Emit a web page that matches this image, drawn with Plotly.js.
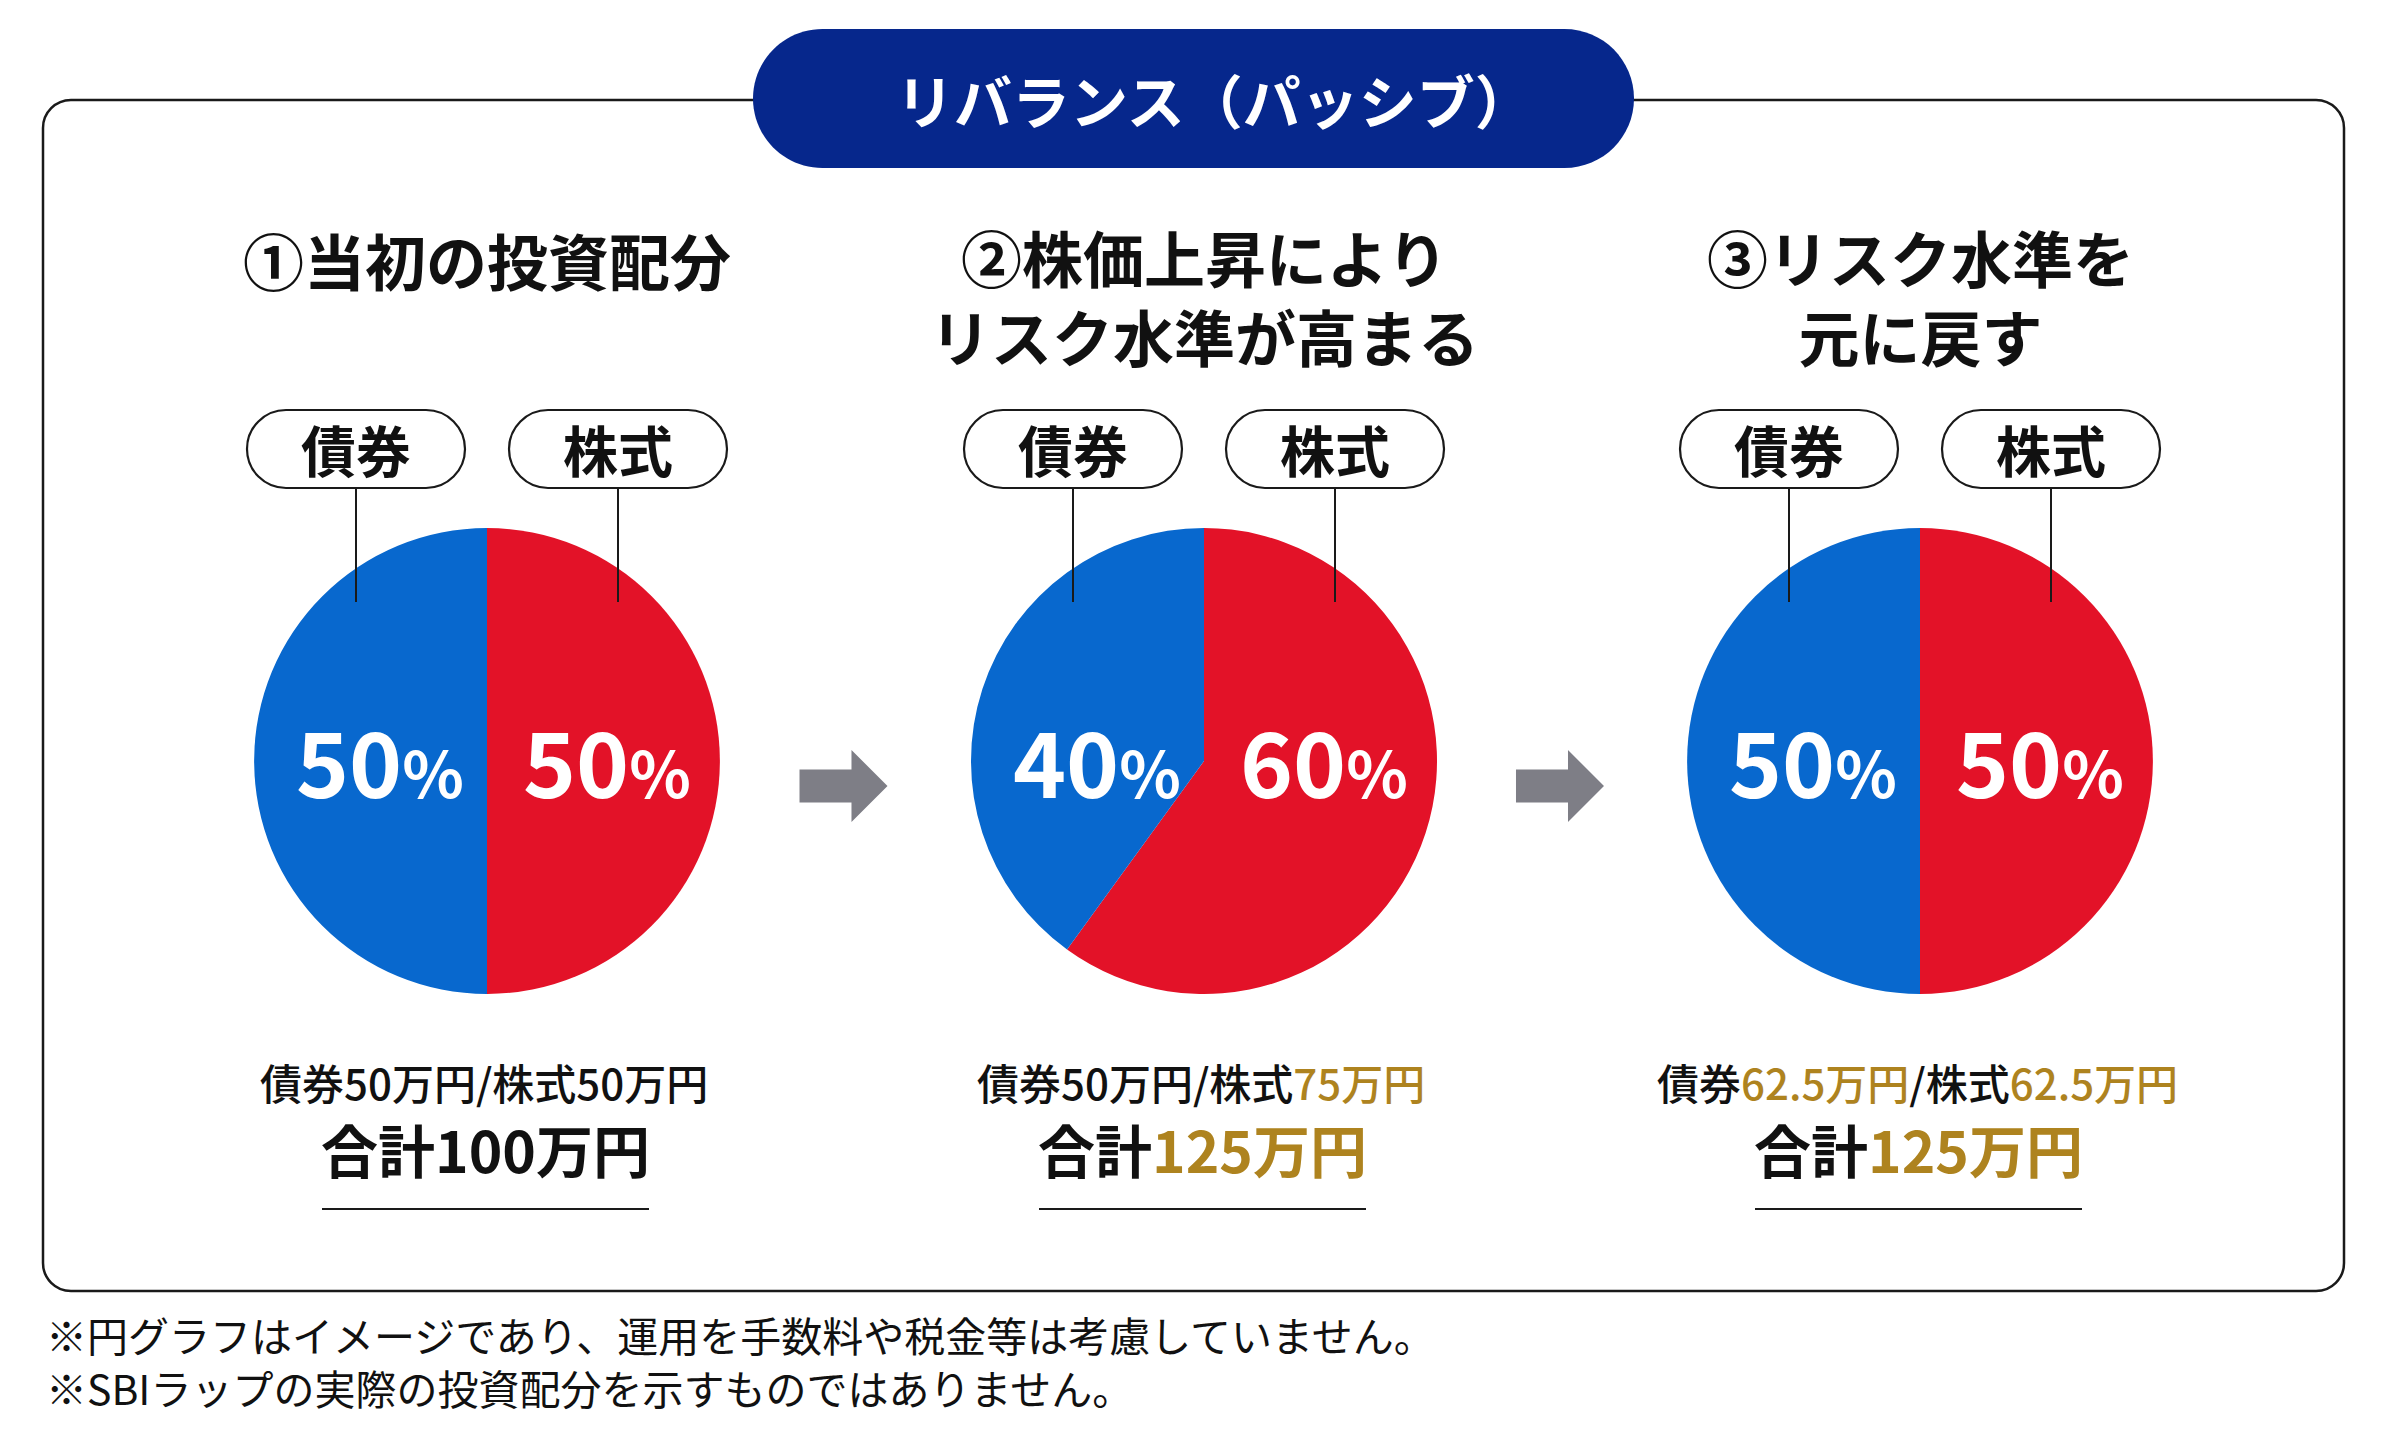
<!DOCTYPE html>
<html>
<head>
<meta charset="utf-8">
<script src="https://cdn.plot.ly/plotly-3.0.1.min.js"></script>
<style>html,body{margin:0;padding:0;background:#fff;}#chart{width:2401px;height:1441px;}</style>
</head>
<body>
<div id="chart"></div>
<script>
// ---- data ----
const headerText = "リバランス（パッシブ）";
const panelTitles = [["①当初の投資配分"], ["②株価上昇により", "リスク水準が高まる"], ["③リスク水準を", "元に戻す"]];
const assetLabels = ["株式", "債券"];
const stockShare = [50, 60, 50];
const bondShare = [50, 40, 50];
const bondAmount = ["50", "50", "62.5"];
const stockAmount = ["50", "75", "62.5"];
const totalAmount = ["100", "125", "125"];
const bondChanged = [false, false, true];
const stockChanged = [false, true, true];
const totalChanged = [false, true, true];
const footnotes = ["※円グラフはイメージであり、運用を手数料や税金等は考慮していません。",
                   "※SBIラップの実際の投資配分を示すものではありません。"];

// ---- styling ----
const W = 2401, H = 1441;
const FONT = '"Noto Sans CJK JP", "Noto Sans", sans-serif';
const BLUE = "#0868CE", RED = "#E31228", NAVY = "#06278C", GRAY = "#7E7E86", GOLD = "#AE831F", INK = "#111111";
const pieCx = [487, 1204, 1920];
const pieCy = 761, R = 233;

const fx = x => x / W;
const fy = y => 1 - y / H;
const P = (x, y) => fx(x).toFixed(5) + "," + fy(y).toFixed(5);

function rrect(x0, y0, x1, y1, r) {
  const k = 0.5523 * r;
  return `M${P(x0 + r, y0)} L${P(x1 - r, y0)} C${P(x1 - r + k, y0)} ${P(x1, y0 + r - k)} ${P(x1, y0 + r)} ` +
         `L${P(x1, y1 - r)} C${P(x1, y1 - r + k)} ${P(x1 - r + k, y1)} ${P(x1 - r, y1)} ` +
         `L${P(x0 + r, y1)} C${P(x0 + r - k, y1)} ${P(x0, y1 - r + k)} ${P(x0, y1 - r)} ` +
         `L${P(x0, y0 + r)} C${P(x0, y0 + r - k)} ${P(x0 + r - k, y0)} ${P(x0 + r, y0)} Z`;
}
function arrow(cx, cy) {
  return `M${P(cx - 44, cy - 16.5)} L${P(cx + 8, cy - 16.5)} L${P(cx + 8, cy - 36)} L${P(cx + 44, cy)} ` +
         `L${P(cx + 8, cy + 36)} L${P(cx + 8, cy + 16.5)} L${P(cx - 44, cy + 16.5)} Z`;
}

const traces = pieCx.map((cx, i) => ({
  type: "pie",
  labels: assetLabels,
  values: [stockShare[i], bondShare[i]],
  marker: { colors: [RED, BLUE], line: { width: 0 } },
  sort: false,
  direction: "clockwise",
  rotation: 0,
  textinfo: "none",
  hoverinfo: "label+percent",
  showlegend: false,
  domain: { x: [fx(cx - R), fx(cx + R)], y: [fy(pieCy + R), fy(pieCy - R)] }
}));

const shapes = [];
shapes.push({ type: "path", xref: "paper", yref: "paper", path: rrect(43, 100, 2344, 1291, 28),
              line: { color: "#1a1a1a", width: 2.5 }, fillcolor: "rgba(0,0,0,0)" });
shapes.push({ type: "path", xref: "paper", yref: "paper", path: rrect(753, 29, 1634, 168, 69.5),
              line: { width: 0 }, fillcolor: NAVY });
pieCx.forEach((cx, i) => {
  [cx - 131, cx + 131].forEach(lx => {
    shapes.push({ type: "path", xref: "paper", yref: "paper", path: rrect(lx - 109, 410, lx + 109, 488, 39),
                  line: { color: "#1a1a1a", width: 2.2 }, fillcolor: "#ffffff" });
    shapes.push({ type: "line", xref: "paper", yref: "paper", x0: fx(lx), x1: fx(lx), y0: fy(488), y1: fy(602),
                  line: { color: "#1a1a1a", width: 2 } });
  });
  shapes.push({ type: "line", xref: "paper", yref: "paper", x0: fx(cx - 165), x1: fx(cx + 162), y0: fy(1209), y1: fy(1209),
                line: { color: "#1a1a1a", width: 2 } });
  if (i < pieCx.length - 1) {
    shapes.push({ type: "path", xref: "paper", yref: "paper", path: arrow((cx + pieCx[i + 1]) / 2 - 2, 786),
                  line: { width: 0 }, fillcolor: GRAY });
  }
});

const ann = [];
function txt(x, y, text, size, color, weight, xanchor, align) {
  ann.push({ xref: "paper", yref: "paper", x: fx(x), y: fy(y), xanchor: xanchor || "center", yanchor: "middle",
             align: align || "center",
             text: text, showarrow: false, font: { family: FONT, size: size, color: color, weight: weight || 400 } });
}
const colored = (s, on) => on ? `<span style="color:${GOLD}">${s}</span>` : s;
const pct = v => `${v}<span style="font-size:64px;font-weight:bold">%</span>`;

txt(1214, 99, headerText, 58, "#ffffff", 700);
pieCx.forEach((cx, i) => {
  const lines = panelTitles[i];
  const midY = 259 + (lines.length - 1) * 37;
  txt(cx, midY, lines.join("<br>"), 61, INK, 700);
  txt(cx - 131, 448, assetLabels[1], 55, INK, 700);
  txt(cx + 131, 448, assetLabels[0], 55, INK, 700);
  txt(cx - 107, 759, pct(bondShare[i]), 90, "#ffffff", 700);
  txt(cx + 120, 759, pct(stockShare[i]), 90, "#ffffff", 700);
  txt(cx - 3, 1081, `債券${colored(bondAmount[i] + "万円", bondChanged[i])}/株式${colored(stockAmount[i] + "万円", stockChanged[i])}`, 42, INK, 500);
  txt(cx - 2, 1148, `合計${colored(totalAmount[i] + "万円", totalChanged[i])}`, 57, INK, 700);
});
txt(44, 1360, footnotes.join("<br>"), 41, INK, 400, "left", "left");

Plotly.newPlot("chart", traces, {
  width: W, height: H,
  margin: { l: 0, r: 0, t: 0, b: 0 },
  paper_bgcolor: "#ffffff",
  showlegend: false,
  shapes: shapes,
  annotations: ann
}, { staticPlot: true });
</script>
</body>
</html>
